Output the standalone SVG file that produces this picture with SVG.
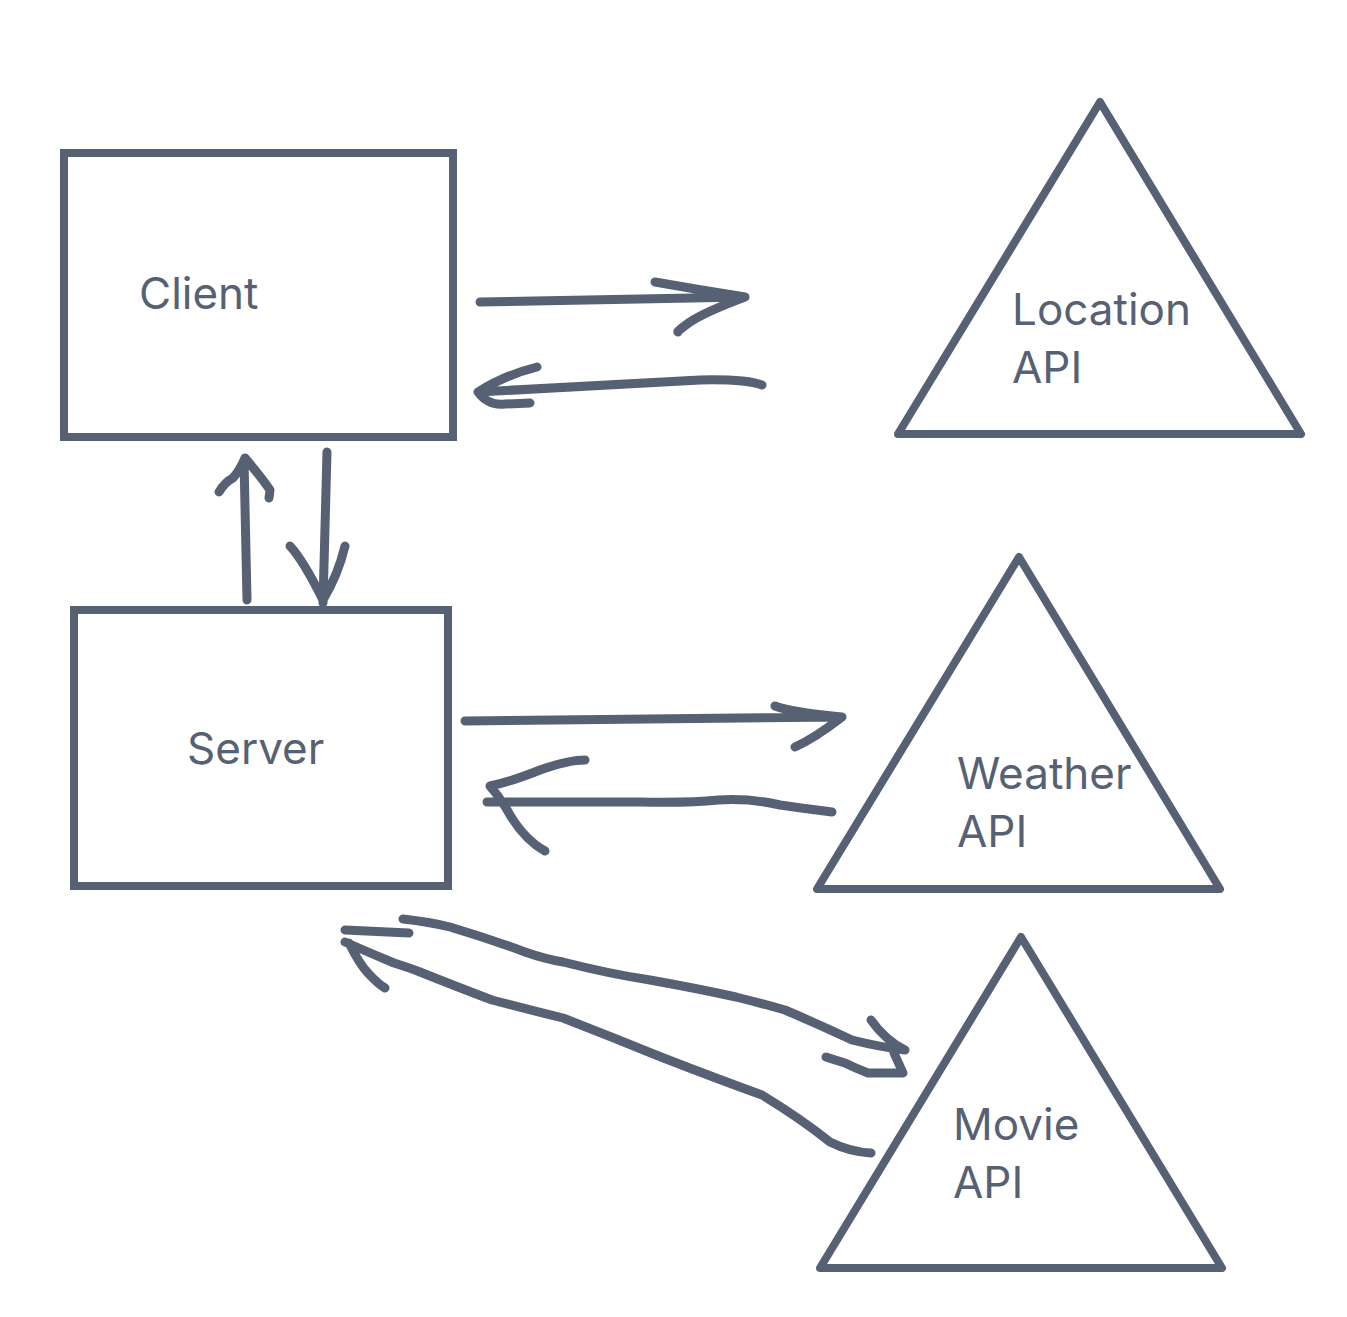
<svg xmlns="http://www.w3.org/2000/svg" width="1347" height="1317" viewBox="0 0 1347 1317">
<style>
.box{fill:none;stroke:#576174;stroke-width:8;stroke-linejoin:miter}
.tri{fill:none;stroke:#576174;stroke-width:8;stroke-linejoin:round}
.lbl{font-family:Inter,"Open Sans","Liberation Sans",sans-serif;font-size:44px;fill:#576174}
.ink{fill:none;stroke:#576174;stroke-width:9;stroke-linecap:round;stroke-linejoin:round}
</style>
<rect width="1347" height="1317" fill="#ffffff"/>
<g id="client"><rect class="box" x="64" y="153" width="389" height="284"/><text class="lbl" x="139" y="309">Client</text></g>
<g id="server"><rect class="box" x="74" y="610" width="374" height="276"/><text class="lbl" x="187" y="764">Server</text></g>
<g id="location-api"><polygon class="tri" points="1100,102 1301,434 898,434"/><text class="lbl" x="1012" y="325">Location</text><text class="lbl" x="1012" y="383">API</text></g>
<g id="weather-api"><polygon class="tri" points="1019,557 1220,889 817,889"/><text class="lbl" x="957" y="789">Weather</text><text class="lbl" x="957" y="847">API</text></g>
<g id="movie-api"><polygon class="tri" points="1021,937 1222,1268 820,1268"/><text class="lbl" x="953" y="1140">Movie</text><text class="lbl" x="953" y="1198">API</text></g>
<g id="connectors">
<path class="ink" d="M480,302 L745,297 M655,282 Q700,290 745,297 Q705,312 690,322 Q676,332 678,332"/>
<path class="ink" d="M762,385 Q745,379 700,380 L478,392 M537,367 Q505,375 478,392 Q488,406 505,404 L530,403"/>
<path class="ink" d="M247,600 L244,460 M219,492 Q225,482 233,478 Q240,470 245,458 Q262,478 270,490 L269,498"/>
<path class="ink" d="M327,452 L323,603 M290,546 Q303,560 323,600 Q338,575 345,546"/>
<path class="ink" d="M465,721 L842,717 M775,706 Q790,712 842,717 Q815,738 795,747"/>
<path class="ink" d="M832,812 Q800,808 780,805 Q750,798 718,800 Q690,803 640,802 L487,802 M585,760 Q568,760 540,770 Q510,782 490,786 Q502,800 510,815 Q525,840 545,851"/>
<path class="ink" d="M403,919 Q430,922 450,927 Q490,939 525,952 Q545,959 563,962 Q610,974 650,980 Q700,989 736,997 Q760,1003 785,1010 Q820,1025 852,1040 Q880,1047 905,1050 M871,1020 Q885,1040 905,1050 M894,1053 L903,1073 Q880,1073 868,1073 Q855,1068 845,1063 Q835,1060 826,1057"/>
<path class="ink" d="M409,933 L345,930 M345,942 Q370,953 394,963 Q410,968 420,972 Q460,988 492,1000 Q530,1010 563,1018 Q612,1037 661,1057 Q715,1078 762,1095 Q800,1118 830,1142 Q850,1152 871,1153 M349,943 Q360,965 368,973 Q378,984 385,988"/>
</g>
</svg>
